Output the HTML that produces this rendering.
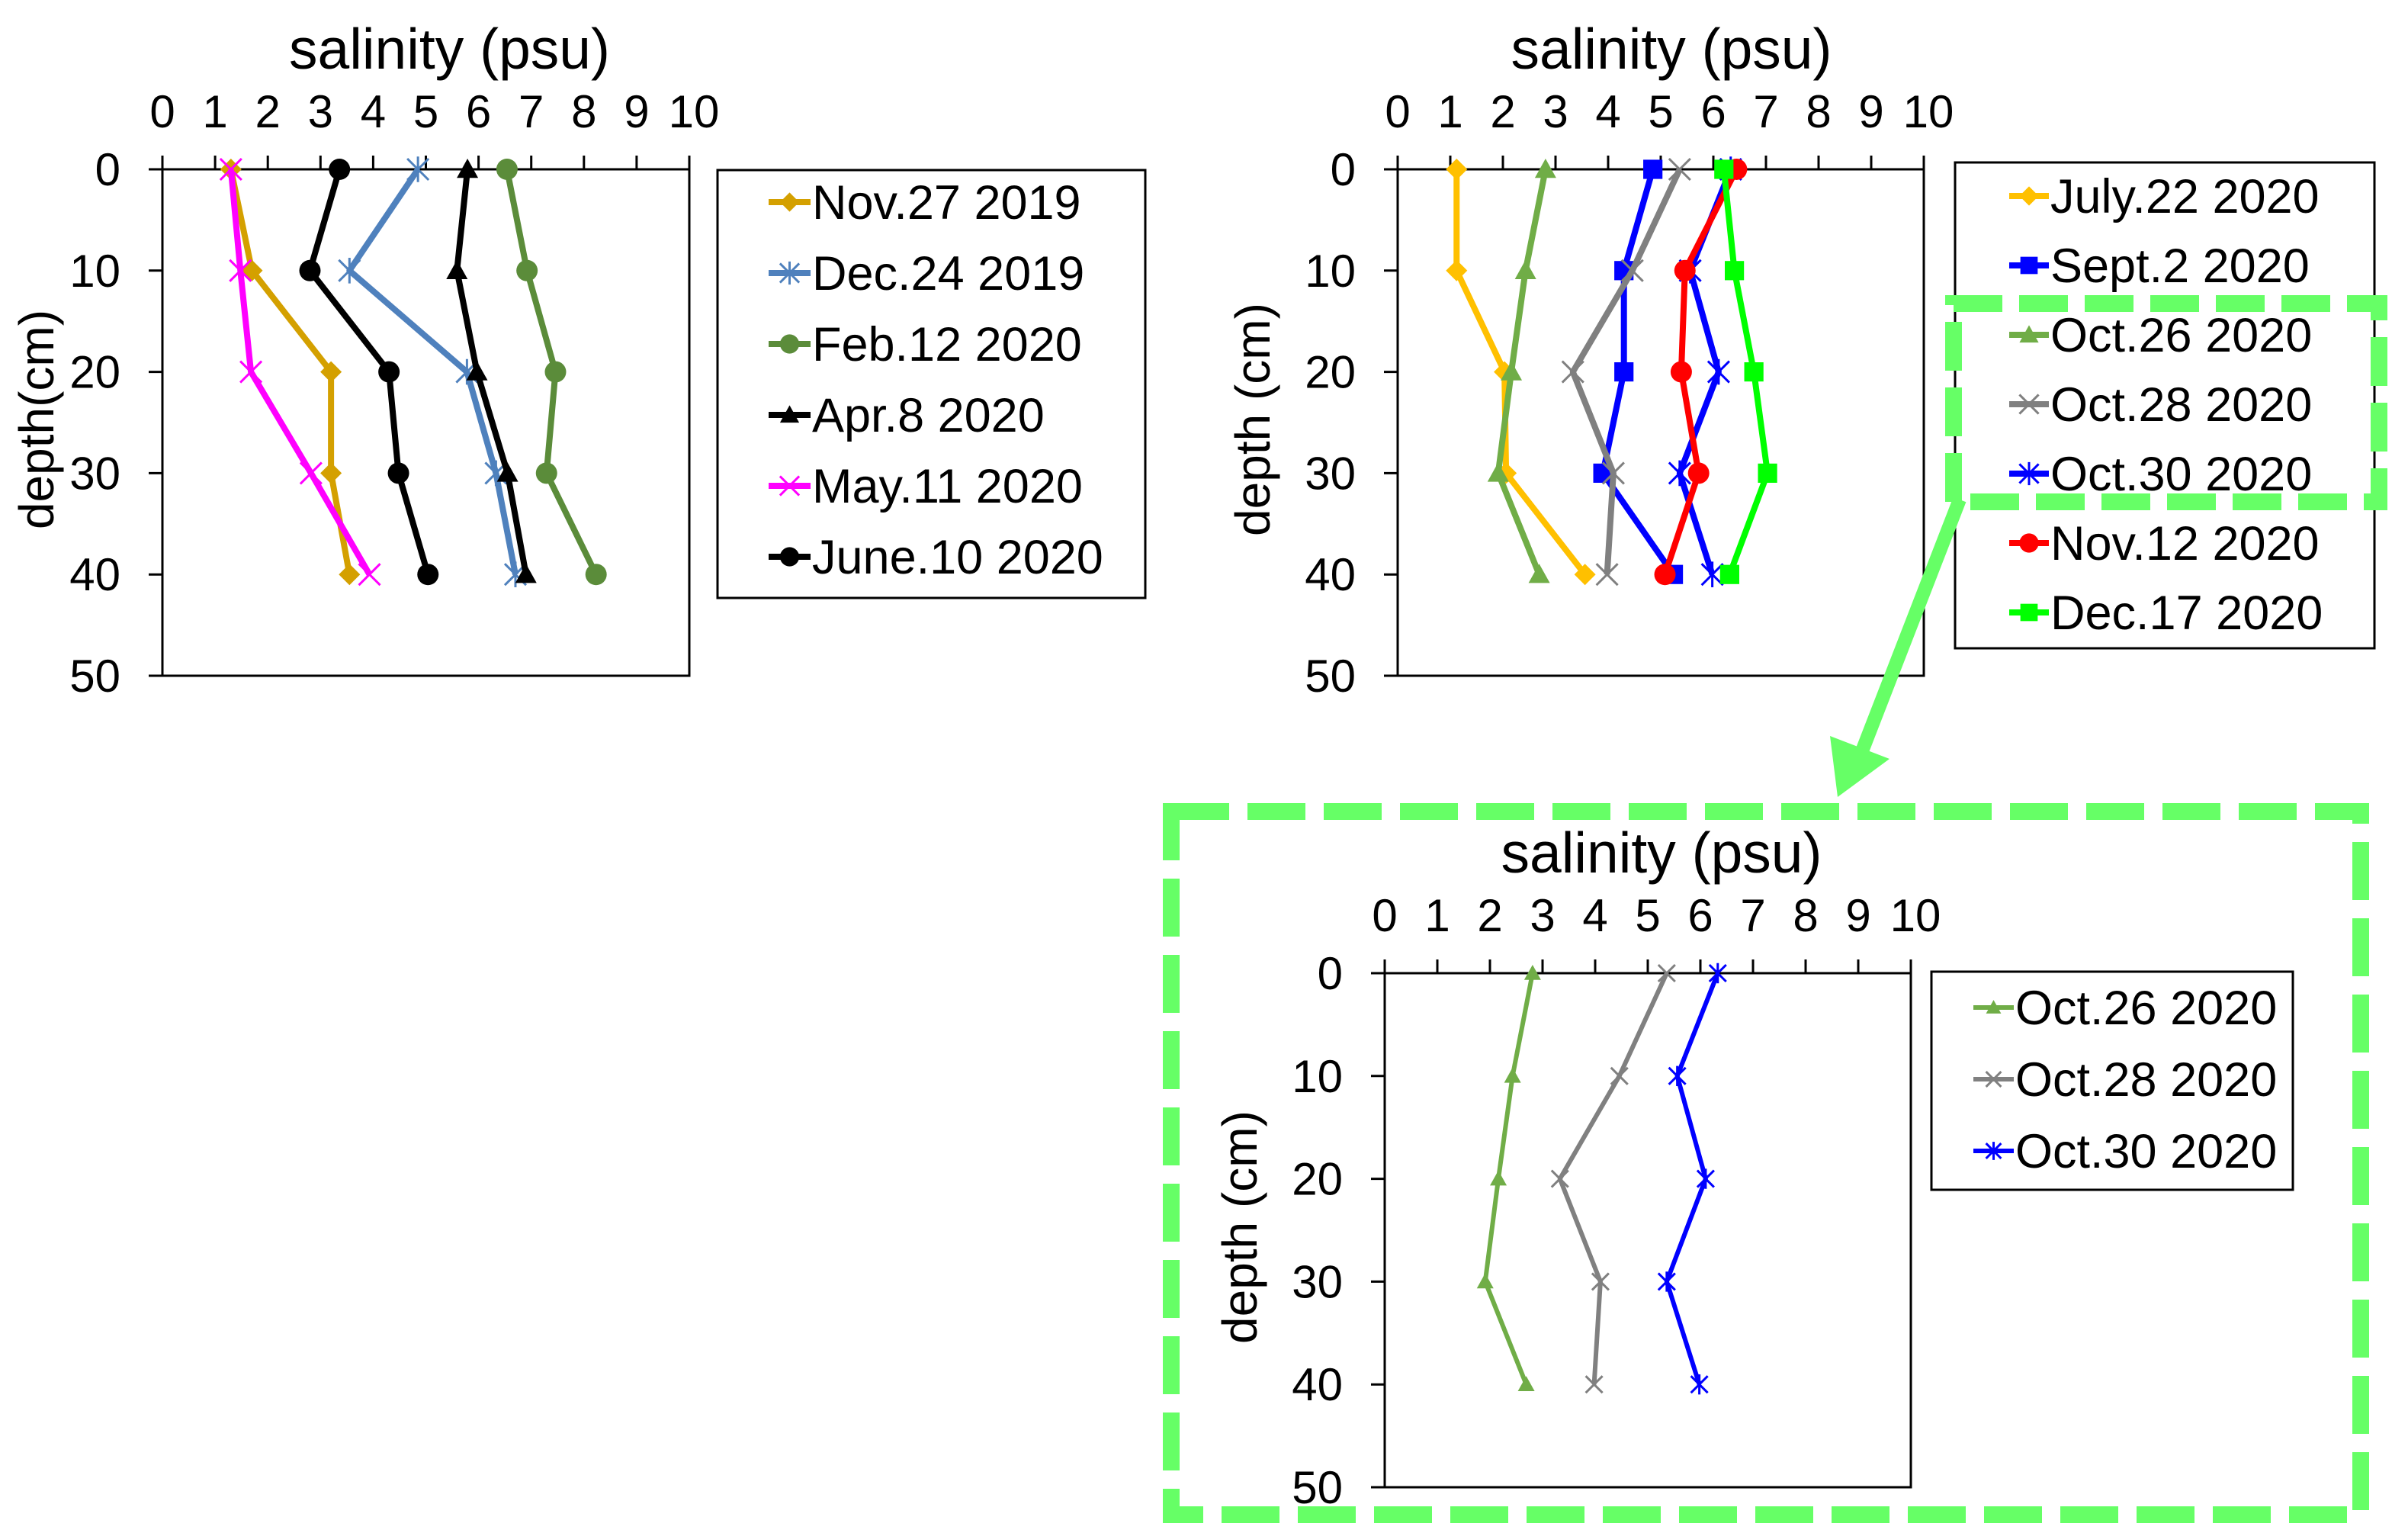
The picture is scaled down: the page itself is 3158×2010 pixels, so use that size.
<!DOCTYPE html>
<html><head><meta charset="utf-8"><style>
html,body{margin:0;padding:0;background:#fff;}
svg{display:block;font-family:"Liberation Sans",Arial,sans-serif;}
</style></head><body>
<svg id="fig" width="3158" height="2010" viewBox="0 0 3158 2010" xmlns="http://www.w3.org/2000/svg"></svg>
<script>
// ---------- data ----------
const depths = [0, 10, 20, 30, 40];
const xTicks = [0,1,2,3,4,5,6,7,8,9,10];
const yTicks = [0,10,20,30,40,50];

const c1Names = ["Nov.27 2019","Dec.24 2019","Feb.12 2020","Apr.8 2020","May.11 2020","June.10 2020"];
const nov27_2019 = [1.3, 1.7, 3.2, 3.2, 3.55];
const dec24_2019 = [4.85, 3.55, 5.78, 6.33, 6.7];
const feb12_2020 = [6.54, 6.92, 7.46, 7.29, 8.23];
const apr8_2020  = [5.79, 5.59, 5.97, 6.55, 6.9];
const may11_2020 = [1.3, 1.48, 1.68, 2.82, 3.93];
const jun10_2020 = [3.36, 2.8, 4.3, 4.48, 5.04];

const c2Names = ["July.22 2020","Sept.2 2020","Oct.26 2020","Oct.28 2020","Oct.30 2020","Nov.12 2020","Dec.17 2020"];
const jul22_2020 = [1.12, 1.12, 2.03, 2.06, 3.56];
const sep2_2020  = [4.85, 4.3, 4.3, 3.9, 5.24];
const oct26_2020 = [2.81, 2.43, 2.16, 1.91, 2.69];
const oct28_2020 = [5.36, 4.46, 3.33, 4.1, 3.98];
const oct30_2020 = [6.33, 5.56, 6.1, 5.36, 5.98];
const nov12_2020 = [6.44, 5.46, 5.39, 5.72, 5.08];
const dec17_2020 = [6.2, 6.4, 6.77, 7.03, 6.31];

// ---------- helpers ----------
const NS = "http://www.w3.org/2000/svg";
const svg = document.getElementById("fig");
function mk(tag, attrs, parent){
  const e = document.createElementNS(NS, tag);
  for (const k in attrs) e.setAttribute(k, attrs[k]);
  (parent||svg).appendChild(e);
  return e;
}
function marker(g, type, x, y, color, s){
  let m;
  if (type==="diamond") m = mk("polygon",{points:`${x},${y-s} ${x+s},${y} ${x},${y+s} ${x-s},${y}`,fill:color},g);
  else if (type==="square") m = mk("rect",{x:x-s*0.9,y:y-s*0.9,width:s*1.8,height:s*1.8,fill:color},g);
  else if (type==="triangle") m = mk("polygon",{points:`${x},${y-s} ${x+s},${y+s*0.8} ${x-s},${y+s*0.8}`,fill:color},g);
  else if (type==="circle") m = mk("circle",{cx:x,cy:y,r:s,fill:color},g);
  else if (type==="x") m = mk("path",{d:`M${x-s},${y-s}L${x+s},${y+s}M${x-s},${y+s}L${x+s},${y-s}`,stroke:color,"stroke-width":3,fill:"none"},g);
  else if (type==="star") m = mk("path",{d:`M${x-s},${y-s}L${x+s},${y+s}M${x-s},${y+s}L${x+s},${y-s}M${x},${y-s*1.2}L${x},${y+s*1.2}`,stroke:color,"stroke-width":3,fill:"none"},g);
  return m;
}
function chart(cfg){
  const g = mk("g",{});
  
  
  const X = v => cfg.x0 + (cfg.x1-cfg.x0)*v/10;
  const Y = d => cfg.y0 + (cfg.y1-cfg.y0)*d/50;
  const plot = mk("rect",{x:cfg.x0,y:cfg.y0,width:cfg.x1-cfg.x0,height:cfg.y1-cfg.y0,fill:"none",stroke:"#000","stroke-width":3},g);
  
  
  const title = mk("text",{x:(cfg.x0+cfg.x1)/2+cfg.tdx,y:cfg.y0-132,"font-size":75,"text-anchor":"middle"},g);
  title.textContent = "salinity (psu)";
  
  
  xTicks.forEach(t=>{
    mk("line",{x1:X(t),x2:X(t),y1:cfg.y0,y2:cfg.y0-18,stroke:"#000","stroke-width":3},g);
    const tl = mk("text",{x:X(t)+(t===10?6:0),y:cfg.y0-55,"font-size":60,"text-anchor":"middle"},g);
    tl.textContent = t;
    
    
  });
  yTicks.forEach(t=>{
    mk("line",{x1:cfg.x0-18,x2:cfg.x0,y1:Y(t),y2:Y(t),stroke:"#000","stroke-width":3},g);
    const tl = mk("text",{x:cfg.x0-55,y:Y(t)+21,"font-size":60,"text-anchor":"end"},g);
    tl.textContent = t;
    
    
  });
  const yt = mk("text",{x:0,y:0,"font-size":64,"text-anchor":"middle",transform:`translate(${cfg.ytx},${(cfg.y0+cfg.y1)/2-4}) rotate(-90)`},g);
  yt.textContent = cfg.ytitle;
  
  
  cfg.series.forEach(s=>{
    const sg = mk("g",{},g);
    
    
    const pts = s.values.map((v,i)=>X(v)+","+Y(depths[i])).join(" ");
    mk("polyline",{points:pts,fill:"none",stroke:s.color,"stroke-width":cfg.lw,"stroke-linejoin":"round"},sg);
    s.values.forEach((v,i)=>{
      const m = marker(sg, s.marker, X(v), Y(depths[i]), s.color, cfg.ms);
      
      
    });
  });
  // legend
  const L = cfg.legend;
  const lg = mk("g",{},g);
  
  
  mk("rect",{x:L.x,y:L.y,width:L.w,height:L.h,fill:"#fff",stroke:"#000","stroke-width":3},lg);
  cfg.series.forEach((s,i)=>{
    const cy = L.row0 + i*L.dy;
    const eg = mk("g",{},lg);
    
    
    mk("line",{x1:L.lx0,x2:L.lx1,y1:cy,y2:cy,stroke:s.color,"stroke-width":cfg.lw},eg);
    marker(eg, s.marker, (L.lx0+L.lx1)/2, cy, s.color, cfg.ms*0.9);
    const t = mk("text",{x:L.lx1+2,y:cy+22,"font-size":L.fs},eg);
    t.textContent = s.name;
  });
}

chart({name:"chart-1", x0:213,x1:904,y0:222,y1:886, tdx:31, ytx:70, ytitle:"depth(cm)", lw:8, ms:14,
  series:[
    {name:c1Names[0],values:nov27_2019,color:"#D4A000",marker:"diamond"},
    {name:c1Names[1],values:dec24_2019,color:"#4F81BD",marker:"star"},
    {name:c1Names[2],values:feb12_2020,color:"#5B8C3A",marker:"circle"},
    {name:c1Names[3],values:apr8_2020,color:"#000",marker:"triangle"},
    {name:c1Names[4],values:may11_2020,color:"#FF00FF",marker:"x"},
    {name:c1Names[5],values:jun10_2020,color:"#000",marker:"circle"}
  ],
  legend:{x:941,y:223,w:561,h:561,row0:265,dy:93,lx0:1008,lx1:1063,fs:63}});

chart({name:"chart-2", x0:1833,x1:2523,y0:222,y1:886, tdx:14, ytx:1665, ytitle:"depth (cm)", lw:8, ms:14,
  series:[
    {name:c2Names[0],values:jul22_2020,color:"#FFC000",marker:"diamond"},
    {name:c2Names[1],values:sep2_2020,color:"#0000FF",marker:"square"},
    {name:c2Names[2],values:oct26_2020,color:"#70AD47",marker:"triangle"},
    {name:c2Names[3],values:oct28_2020,color:"#808080",marker:"x"},
    {name:c2Names[4],values:oct30_2020,color:"#0000FF",marker:"star"},
    {name:c2Names[5],values:nov12_2020,color:"#FF0000",marker:"circle"},
    {name:c2Names[6],values:dec17_2020,color:"#00FF00",marker:"square"}
  ],
  legend:{x:2564,y:213,w:550,h:637,row0:257,dy:91,lx0:2635,lx1:2687,fs:63}});

chart({name:"chart-3-zoom", x0:1816,x1:2506,y0:1276,y1:1950, tdx:18, ytx:1648, ytitle:"depth (cm)", lw:6, ms:11,
  series:[
    {name:c2Names[2],values:oct26_2020,color:"#70AD47",marker:"triangle"},
    {name:c2Names[3],values:oct28_2020,color:"#808080",marker:"x"},
    {name:c2Names[4],values:oct30_2020,color:"#0000FF",marker:"star"}
  ],
  legend:{x:2533,y:1274,w:474,h:286,row0:1321,dy:94,lx0:2588,lx1:2641,fs:63}});

// highlight boxes and arrow
const hb = mk("rect",{x:2562,y:398,width:558,height:260,fill:"none",stroke:"#66FF66","stroke-width":22,"stroke-dasharray":"64 22"});


const bb = mk("rect",{x:1536,y:1064,width:1560,height:922,fill:"none",stroke:"#66FF66","stroke-width":22,"stroke-dasharray":"76 24"});


const ar = mk("g",{});


mk("line",{x1:2570,y1:655,x2:2440,y2:990,stroke:"#66FF66","stroke-width":18},ar);
mk("polygon",{points:"2410,1045 2400,965 2478,995",fill:"#66FF66"},ar);
</script>
</body></html>
